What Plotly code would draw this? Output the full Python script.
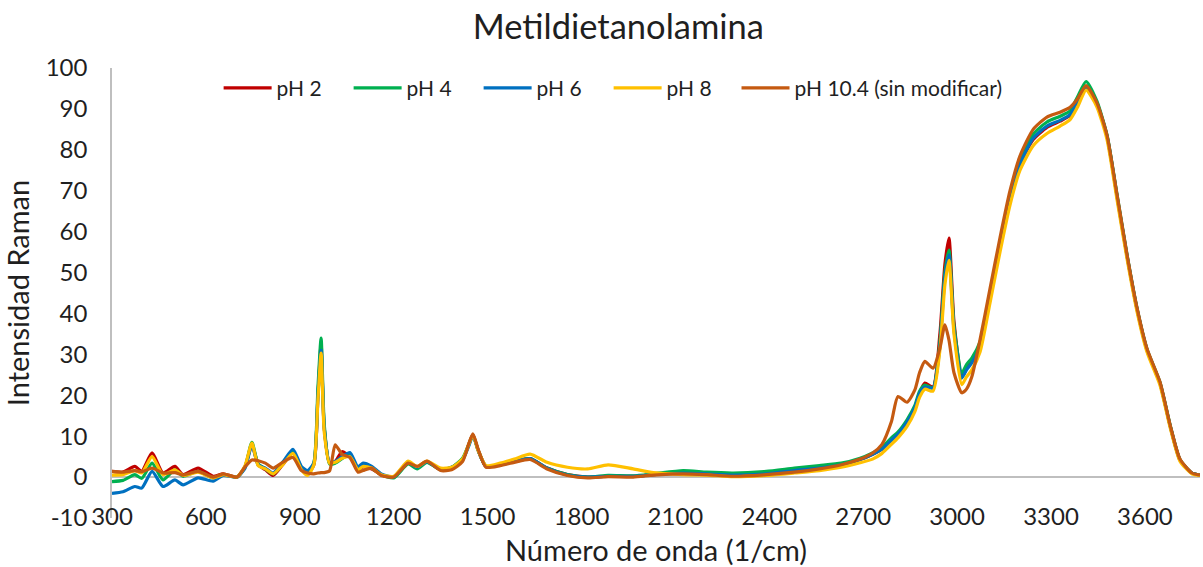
import plotly.graph_objects as go

# Raman shift (1/cm) sampling points shared by all spectra
numero_onda = [300, 335, 373, 395, 428, 463, 501, 527, 575, 623, 655, 699, 725, 747, 767,
               790, 815, 845, 878, 905, 925, 945, 958, 968, 978, 995, 1013, 1035, 1060, 1086,
               1102, 1130, 1160, 1200, 1246, 1275, 1306, 1350, 1385, 1420, 1440, 1453, 1470,
               1495, 1540, 1585, 1636, 1690, 1755, 1820, 1885, 1965, 2030, 2125, 2200, 2285,
               2390, 2480, 2560, 2630, 2690, 2730, 2760, 2790, 2811, 2840, 2865, 2880, 2897,
               2923, 2945, 2961, 2974, 2990, 3015, 3030, 3047, 3073, 3105, 3137, 3169, 3201,
               3243, 3287, 3329, 3361, 3385, 3412, 3446, 3479, 3511, 3543, 3575, 3607, 3648,
               3681, 3712, 3750, 3776]

ph2 = [1.4, 1.2, 2.6, 1.4, 5.9, 1.0, 2.6, 0.6, 2.2, 0.2, 0.8, 0.0, 2.5, 8.0, 3.0,
       1.8, 0.4, 3.0, 6.0, 2.2, 0.8, 3.0, 20.0, 32.5, 12.0, 3.5, 3.8, 6.2, 5.0, 1.8,
       2.5, 2.0, 0.6, 0.0, 3.6, 2.4, 3.8, 1.8, 2.2, 4.2, 8.0, 10.4, 6.5,
       2.6, 3.0, 3.8, 4.5, 2.2, 0.6, 0.0, 0.2, 0.2, 0.6, 1.0, 0.8, 0.5,
       0.8, 1.6, 2.2, 3.0, 4.3, 5.6, 6.8, 9.0, 10.5, 13.5, 17.0, 20.5, 23.0,
       22.0, 35.0, 52.0, 58.4, 38.0, 24.5, 26.5, 28.3, 32.5, 44.0, 56.5, 68.0, 76.5,
       82.5, 85.5, 87.0, 88.4, 91.5, 95.2, 91.4, 83.3, 68.6, 54.0, 41.0, 31.0, 23.0,
       12.4, 4.2, 1.0, 0.5]

ph4 = [-1.1, -0.8, 0.6, -0.3, 3.4, -0.7, 1.8, 0.2, 1.4, -0.2, 0.6, 0.0, 2.5, 8.5, 3.2,
       2.0, 0.8, 3.2, 6.2, 2.4, 1.0, 3.5, 22.0, 34.0, 13.0, 3.2, 3.4, 4.5, 5.6, 1.8,
       2.8, 2.2, 0.6, -0.2, 3.2, 2.0, 3.6, 1.8, 2.4, 4.6, 8.0, 10.2, 6.5,
       2.6, 3.0, 3.8, 4.5, 2.2, 0.6, 0.0, 0.4, 0.3, 0.8, 1.6, 1.2, 1.0,
       1.4, 2.2, 2.8, 3.4, 4.6, 5.9, 7.2, 9.6, 11.0, 14.0, 17.5, 21.0, 22.5,
       21.8, 33.0, 50.0, 55.5, 37.0, 25.4, 27.5, 29.1, 33.0, 45.0, 57.5, 69.0, 77.5,
       83.8, 86.8, 88.2, 89.5, 93.0, 96.7, 92.0, 83.6, 69.0, 54.3, 41.2, 31.2, 23.2,
       12.6, 4.3, 1.0, 0.5]

ph6 = [-4.0, -3.6, -2.3, -2.7, 1.4, -2.3, -0.7, -1.9, -0.2, -1.0, 0.4, 0.0, 2.2, 7.8, 3.0,
       2.2, 1.0, 3.6, 6.8, 2.6, 1.6, 3.5, 20.0, 31.0, 12.0, 3.6, 3.8, 5.0, 6.0, 2.5,
       3.4, 2.6, 0.8, 0.0, 3.6, 2.4, 3.8, 1.8, 2.4, 4.2, 7.6, 10.2, 6.5,
       2.6, 3.0, 3.8, 4.5, 2.2, 0.5, 0.0, 0.2, 0.2, 0.6, 1.0, 0.8, 0.5,
       0.8, 1.6, 2.2, 3.0, 4.3, 5.6, 6.8, 9.0, 10.5, 13.5, 17.0, 20.5, 22.0,
       21.8, 32.0, 49.0, 54.3, 36.0, 24.2, 26.2, 27.9, 32.0, 44.0, 56.5, 68.0, 76.5,
       82.8, 85.8, 87.2, 88.6, 91.8, 95.4, 91.4, 83.3, 68.6, 54.0, 41.0, 31.0, 23.0,
       12.4, 4.2, 1.0, 0.5]

ph8 = [0.5, 0.6, 1.6, 1.0, 5.0, 0.6, 1.8, 0.4, 1.2, -0.2, 0.6, 0.0, 2.8, 8.3, 2.8,
       2.0, 0.8, 3.0, 5.8, 1.8, 0.4, 3.0, 19.0, 30.3, 11.0, 3.4, 3.6, 4.6, 5.0, 1.8,
       2.6, 2.2, 0.6, 0.2, 3.9, 2.6, 3.9, 2.2, 2.4, 4.4, 8.0, 10.3, 6.5,
       2.8, 3.4, 4.4, 5.6, 3.6, 2.4, 2.0, 3.0, 2.0, 1.1, 0.6, 0.5, 0.1,
       0.4, 1.0, 1.6, 2.4, 3.5, 4.4, 5.8, 8.0, 9.6, 12.4, 16.0, 19.5, 21.5,
       21.0, 31.0, 47.0, 53.0, 35.0, 22.6, 24.5, 26.2, 30.5, 42.5, 55.0, 66.5, 75.0,
       81.0, 84.0, 85.8, 87.4, 90.5, 94.6, 90.6, 82.5, 67.8, 53.3, 40.4, 30.5, 22.5,
       12.0, 3.9, 0.8, 0.4]

ph104 = [1.4, 1.2, 1.6, 1.3, 2.2, 1.0, 1.1, 0.5, 1.4, 0.0, 0.8, 0.0, 2.5, 4.2, 4.0,
         3.4, 2.2, 3.6, 4.8, 1.6, 1.0, 0.8, 1.0, 1.1, 1.1, 1.5, 7.9, 5.6, 4.8, 1.2,
         1.6, 2.2, 0.4, 0.0, 3.4, 2.6, 3.9, 1.6, 1.8, 3.8, 8.2, 10.6, 6.8,
         2.4, 2.8, 3.6, 4.3, 2.0, 0.4, -0.2, 0.1, 0.0, 0.5, 0.8, 0.6, 0.2,
         0.6, 1.2, 2.0, 3.0, 4.4, 5.9, 8.0, 13.5, 19.7, 18.3, 21.3, 25.5, 28.3,
         26.6, 31.5, 37.2, 33.5, 25.5, 20.6, 21.5, 24.5, 33.5, 46.0, 58.5, 70.0, 78.5,
         85.0, 88.0, 89.2, 90.4, 92.5, 95.7, 91.6, 83.5, 69.0, 54.3, 41.3, 31.3, 23.3,
         12.6, 4.4, 1.0, 0.5]

nombres = ["pH 2", "pH 4", "pH 6", "pH 8", "pH 10.4 (sin modificar)"]
colores = ["#C00000", "#00B050", "#0070C0", "#FFC000", "#C55A11"]
series = [ph2, ph4, ph6, ph8, ph104]
# the long last entry goes in its own legend box so the short ones can share a fixed width
leyendas = ["legend", "legend", "legend", "legend", "legend2"]

x_ticks = [300, 600, 900, 1200, 1500, 1800, 2100, 2400, 2700, 3000, 3300, 3600]
y_ticks = [-10, 0, 10, 20, 30, 40, 50, 60, 70, 80, 90, 100]
y_ticktext = [str(v) for v in y_ticks]  # plain hyphen for the negative label

FONT = "Lato"
TEXT = "#1f1f1f"

fig = go.Figure()
for nombre, color, valores, leyenda in zip(nombres, colores, series, leyendas):
    fig.add_trace(go.Scatter(
        x=numero_onda, y=valores, name=nombre, mode="lines", legend=leyenda,
        line=dict(color=color, width=3.2, shape="spline", smoothing=0.6),
    ))

leyenda_comun = dict(orientation="h", yanchor="middle", y=0.955, itemwidth=48,
                     bgcolor="rgba(0,0,0,0)", font=dict(size=21, family=FONT, color=TEXT))

fig.update_layout(
    width=1203, height=567,
    margin=dict(l=112, r=3, t=68, b=49),
    paper_bgcolor="white", plot_bgcolor="white",
    font=dict(family=FONT, color=TEXT, size=22),
    title=dict(text="Metildietanolamina", x=0.514, xanchor="center",
               y=0.952, yanchor="middle", font=dict(size=34.5, family=FONT, color=TEXT)),
    showlegend=True,
    legend=dict(x=0.098, xanchor="left", entrywidth=67, entrywidthmode="pixels",
                traceorder="normal", **leyenda_comun),
    legend2=dict(x=0.574, xanchor="left", **leyenda_comun),
    xaxis=dict(range=[300, 3776], tickmode="array", tickvals=x_ticks,
               showgrid=False, zeroline=False, showline=False, ticks="",
               tickfont=dict(size=24, family=FONT, color=TEXT),
               ticklabelstandoff=-18,
               title=dict(text="Número de onda (1/cm)", standoff=12,
                          font=dict(size=29, family=FONT, color=TEXT))),
    yaxis=dict(range=[-10, 100], tickmode="array", tickvals=y_ticks, ticktext=y_ticktext,
               showgrid=False, zeroline=True, zerolinecolor="#BFBFBF", zerolinewidth=2,
               showline=True, linecolor="#BFBFBF", linewidth=1.5, ticks="",
               ticklabelstandoff=18,
               tickfont=dict(size=24, family=FONT, color=TEXT),
               title=dict(text="Intensidad Raman", standoff=8,
                          font=dict(size=29, family=FONT, color=TEXT))),
)

fig.write_html("out.html")
